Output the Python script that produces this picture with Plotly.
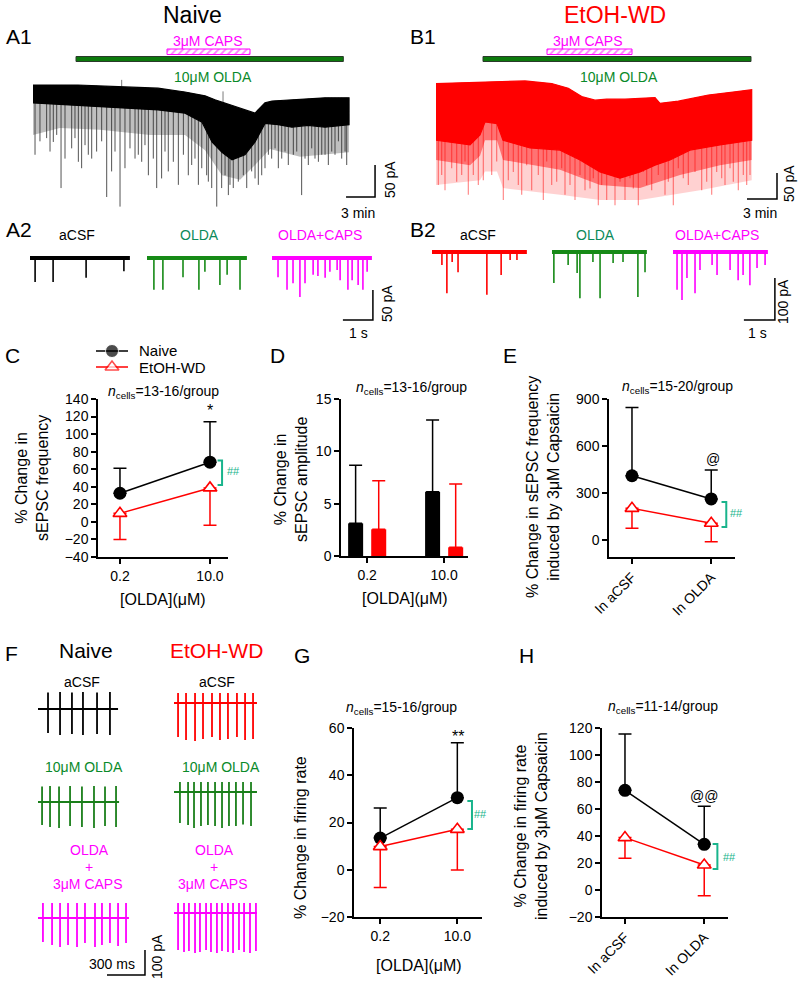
import numpy as np
import plotly.graph_objects as go

W, H = 800, 989
FONT = "Liberation Sans, Arial, Helvetica, sans-serif"
RED = "#ff0000"
MAG = "#ff00ff"
TRACE_GRN = "#168a16"
LBL_GRN = "#0a8a2a"
TEAL_LBL = "#0b8a5a"
SIG = "#19b48c"

# ============================ DATA ============================
# ---- A1 (Naive) long recording: time (min), current (pA, 0 = start level)
a1_top_t = [0.0, 4.65, 9.51, 12.93, 15.72, 17.79, 18.82, 20.17, 22.96, 23.27, 23.99, 24.72, 26.78, 30.2, 32.68]
a1_top_i = [0, 0, -3, -5, -11, -17, -23, -30, -44, -39, -28, -25, -23, -20, -20]
a1_dense_t = [0.0, 2.59, 6.1, 9.51, 12.93, 15.72, 17.48, 18.51, 19.54, 20.58, 21.92, 22.96, 23.99, 25.34, 26.78, 28.44, 30.2, 32.68]
a1_dense_i = [-28, -31, -34, -36, -39, -44, -58, -89, -105, -117, -109, -89, -60, -62, -66, -63, -66, -62]
a1_fringe_t = [0.0, 2.79, 6.93, 12.1, 15.72, 17.79, 19.54, 21.41, 22.96, 24.51, 27.61, 32.68]
a1_fringe_i = [-78, -67, -70, -78, -78, -102, -141, -148, -125, -100, -112, -105]
a1_evt_t = [0.21, 1.41, 2.1, 2.9, 3.31, 4.69, 5.03, 5.72, 6.58, 7.62, 8.13, 9.0, 9.51, 10.55, 11.24,
            11.93, 12.79, 13.3, 13.99, 15.03, 16.06, 16.41, 17.1, 17.96, 18.48, 19.0, 19.51, 20.2, 20.71, 21.23,
            21.75, 22.61, 23.3, 23.99, 24.68, 25.37, 26.4, 26.92, 27.78, 28.47, 29.16, 29.86, 30.54, 31.23, 31.92, 32.44,
            0.72, 1.76, 2.45, 4.0, 4.34, 5.38, 6.07, 7.1, 8.48, 10.03, 10.89, 11.58, 12.44, 13.65, 14.51, 15.55,
            16.75, 17.45, 18.13, 19.86, 20.37, 22.1, 22.96, 23.65, 24.34, 25.03, 25.72, 26.06, 27.27, 28.13,
            28.82, 29.51, 30.2, 30.89, 31.58, 32.27]
a1_evt_i = [-109, -83, -89, -161, -115, -120, -130, -109, -104, -175, -135, -190, -130, -115, -120,
            -141, -161, -146, -135, -156, -141, -125, -156, -141, -161, -190, -161, -172, -161, -151,
            -141, -135, -156, -130, -115, -130, -125, -109, -172, -125, -115, -109, -125, -109, -115, -125,
            -88, -104, -78, -99, -83, -94, -115, -88, -104, -99, -109, -94, -115, -104, -120, -109,
            -115, -130, -151, -141, -156, -161, -146, -141, -109, -99, -115, -104, -104, -115,
            -99, -120, -109, -104, -88, -104]
a1_up_t = [9.17, 19.65]
a1_up_i = [8, -10]
a1_olda = [4.45, 32.09]
a1_caps = [13.86, 22.44]

# ---- B1 (EtOH-WD) long recording
b1_top_t = [0.0, 3.9, 8.9, 11.57, 13.23, 14.57, 15.9, 17.07, 18.9, 21.9, 22.4, 24.23, 27.23, 29.9, 31.57]
b1_top_i = [-1, 1, 4, -1, -10, -26, -33, -31, -31, -28, -39, -35, -23, -17, -13]
b1_dense_t = [0.0, 3.4, 4.4, 4.9, 6.1, 6.7, 9.4, 12.4, 14.4, 16.4, 18.4, 20.4, 21.9, 23.4, 25.4, 28.4, 31.57]
b1_dense_i = [-110, -119, -100, -75, -78, -110, -125, -129, -148, -171, -183, -171, -158, -148, -129, -119, -110]
b1_mid_t = [0.0, 3.4, 4.4, 4.9, 6.1, 6.7, 12.4, 16.4, 20.4, 24.4, 28.4, 31.57]
b1_mid_i = [-148, -158, -140, -110, -110, -148, -167, -196, -202, -177, -158, -148]
b1_light_t = [0.0, 4.4, 4.9, 6.1, 6.7, 12.4, 16.4, 20.4, 26.4, 31.57]
b1_light_i = [-196, -187, -170, -170, -202, -215, -225, -225, -206, -187]
b1_evt_t = [0.23, 0.9, 2.57, 3.23, 4.73, 6.73, 7.23, 8.57, 9.57, 10.73, 11.57, 12.9, 13.9, 14.9,
            16.23, 17.07, 17.9, 18.9, 20.23, 21.57, 22.9, 23.73, 25.23, 26.57, 27.57, 28.9, 30.23, 31.4,
            0.57, 1.57, 2.07, 2.9, 3.73, 4.23, 5.57, 6.07, 7.73, 8.23, 9.07, 10.23, 11.07, 12.07, 12.57,
            13.4, 14.4, 15.4, 15.73, 16.57, 17.4, 18.4, 19.4, 19.73, 20.73, 21.07, 22.23, 23.23, 24.23,
            24.73, 25.9, 27.07, 28.07, 28.57, 29.4, 29.73, 30.73, 31.07]
b1_evt_i = [-196, -206, -177, -215, -187, -225, -187, -215, -206, -225, -196, -215, -225, -206,
            -235, -225, -235, -225, -235, -206, -215, -235, -196, -206, -215, -196, -206, -177,
            -177, -164, -190, -151, -177, -196, -177, -151, -171, -196, -158, -177, -151, -190, -164,
            -196, -177, -203, -183, -196, -177, -190, -183, -203, -171, -196, -177, -190, -164,
            -183, -171, -190, -171, -183, -164, -190, -177, -196]
b1_olda = [4.7, 31.5]
b1_caps = [11.1, 19.6]

# ---- A2 / B2 example sweeps: event times (s from sweep start) and amplitudes (pA)
seg_names = ["aCSF", "OLDA", "OLDA+CAPS"]
a2_dur = [3.33, 3.33, 3.33]
a2_evt_t = [[0.17, 0.77, 1.87, 3.13],
            [0.23, 0.53, 1.2, 1.73, 1.93, 2.43, 2.67, 3.1],
            [0.2, 0.5, 0.7, 0.93, 1.1, 1.37, 1.53, 1.77, 1.93, 2.17, 2.27, 2.53, 2.67, 2.87, 3.03, 3.17]]
a2_evt_a = [[40, 40, 33, 22],
            [53, 53, 32, 53, 23, 45, 28, 53],
            [32, 53, 42, 65, 42, 28, 30, 33, 23, 20, 37, 53, 37, 45, 53, 23]]
b2_dur = [3.06, 3.06, 3.06]
b2_evt_t = [[0.32, 0.48, 0.65, 0.84, 1.77, 2.23, 2.52, 2.74],
            [0.06, 0.52, 0.81, 0.9, 1.32, 1.55, 1.97, 2.29, 2.77, 3.0],
            [0.13, 0.29, 0.45, 0.71, 0.87, 1.26, 1.42, 1.84, 2.1, 2.26, 2.48, 2.71, 2.97]]
b2_evt_a = [[31, 98, 24, 48, 102, 55, 19, 19],
            [74, 31, 50, 110, 24, 110, 26, 24, 107, 48],
            [90, 114, 62, 98, 43, 31, 55, 43, 67, 55, 79, 38, 31]]

# ---- F: action-current sweeps: spike times (ms), upward / downward amplitudes (pA)
f_naive_dur = [632, 640, 718]
f_naive_t = [[79, 174, 268, 355, 466, 568],
             [32, 95, 166, 253, 347, 442, 529, 616],
             [39, 111, 174, 237, 308, 371, 450, 505, 568, 632, 695]]
f_naive_up = [[66, 68, 66, 68, 66, 68],
              [62, 64, 62, 64, 62, 64, 62, 64],
              [60, 60, 60, 60, 60, 60, 60, 60, 60, 60, 60]]
f_naive_dn = [[96, 104, 100, 104, 100, 104],
              [92, 100, 104, 96, 100, 104, 96, 100],
              [96, 108, 116, 108, 116, 100, 116, 108, 100, 112, 100]]
f_etoh_dur = [655, 655, 655]
f_etoh_t = [[32, 95, 166, 229, 300, 363, 426, 497, 561, 624],
            [47, 111, 158, 213, 268, 324, 379, 434, 489, 545, 608],
            [32, 79, 118, 166, 205, 253, 292, 339, 379, 426, 466, 513, 553, 600, 647]]
f_etoh_up = [[40] * 10, [40] * 11, [40] * 15]
f_etoh_dn = [[136, 148, 152, 144, 136, 148, 144, 136, 148, 144],
             [124, 132, 144, 136, 132, 136, 144, 136, 136, 130, 136],
             [148, 156, 152, 160, 156, 148, 156, 160, 152, 156, 160, 148, 156, 160, 152]]

# ---- C: % change in sEPSC frequency
conc_labels = ["0.2", "10.0"]
c_naive = [32.6, 68.0]
c_naive_sem = [28.4, 46.0]
c_etoh = [9.7, 38.7]
c_etoh_sem = [29.7, 42.4]
# ---- D: % change in sEPSC amplitude
d_naive = [3.12, 6.14]
d_naive_sem = [5.54, 6.86]
d_etoh = [2.55, 0.83]
d_etoh_sem = [4.65, 6.05]
# ---- E: % change in sEPSC frequency induced by capsaicin
cond_labels = ["In aCSF", "In OLDA"]
e_naive = [410, 262]
e_naive_sem = [435, 185]
e_etoh = [202, 107]
e_etoh_sem = [127, 118]
# ---- G: % change in firing rate
g_naive = [13.4, 30.5]
g_naive_sem = [12.7, 23.3]
g_etoh = [9.8, 17.1]
g_etoh_sem = [17.3, 17.2]
# ---- H: % change in firing rate induced by capsaicin
h_naive = [73.8, 33.8]
h_naive_sem = [41.8, 28.2]
h_etoh = [38.8, 18.5]
h_etoh_sem = [15.3, 22.7]

group_names = ["Naive", "EtOH-WD"]

# group-difference brackets (x position in category units, y span in data units)
brk_c = (1.134, 70, 42)
brk_e = (1.19, 242, 83)
brk_g = (1.19, 29.1, 17.3)
brk_h = (1.166, 34.1, 15.6)

# ============================ LAYOUT HELPERS ============================
def fx(px):
    return px / W

def fy(py):
    return 1 - py / H

def dx(a, b):
    return [fx(a), fx(b)]

def dy(top, bottom):
    return [fy(bottom), fy(top)]

def sid(n):
    return "" if n == 1 else str(n)

fig = go.Figure()
lay = {}
annots = []
shapes = []

def hidden_axes(n, xd, yd, xr, yr):
    lay["xaxis" + sid(n)] = dict(domain=xd, range=xr, visible=False, anchor="y" + sid(n),
                                 fixedrange=True, automargin=False)
    lay["yaxis" + sid(n)] = dict(domain=yd, range=yr, visible=False, anchor="x" + sid(n),
                                 fixedrange=True, automargin=False)

def shown_axes(n, xd, yd, xr, yr, cats, yticks, tickangle=0):
    common = dict(showline=True, linecolor="black", linewidth=1.5, ticks="outside", ticklen=5,
                  tickwidth=1.5, tickcolor="black", showgrid=False, zeroline=False,
                  tickfont=dict(size=14, color="black", family=FONT), fixedrange=True, automargin=False)
    lay["xaxis" + sid(n)] = dict(domain=xd, range=xr, type="category", categoryorder="array",
                                 categoryarray=cats, tickangle=tickangle, anchor="y" + sid(n), **common)
    lay["yaxis" + sid(n)] = dict(domain=yd, range=yr, tickvals=yticks, anchor="x" + sid(n), **common)

def add(tr, n):
    tr.update(xaxis="x" + sid(n), yaxis="y" + sid(n), showlegend=False)
    fig.add_trace(tr)

def txt(px, py, s, size=14, color="black", angle=0, xanchor="center", yanchor="middle"):
    annots.append(dict(x=fx(px), y=fy(py), xref="paper", yref="paper", text=s, showarrow=False,
                       font=dict(size=size, color=color, family=FONT), textangle=angle,
                       xanchor=xanchor, yanchor=yanchor))

def line(n, xs, ys, color, width):
    add(go.Scatter(x=xs, y=ys, mode="lines", line=dict(color=color, width=width), hoverinfo="skip"), n)

def band(n, t1, i1, t2, i2, color, lw=0.6):
    xs = list(t1) + list(t2)[::-1]
    ys = list(i1) + list(i2)[::-1]
    add(go.Scatter(x=xs, y=ys, mode="lines", fill="toself", fillcolor=color,
                   line=dict(color=color, width=lw), hoverinfo="skip"), n)

def spikes(n, ts, peaks, base_t, base_i, color, width):
    xs, ys = [], []
    for t, p in zip(ts, peaks):
        b = float(np.interp(t, base_t, base_i))
        xs += [t, t, None]
        ys += [b, p, None]
    line(n, xs, ys, color, width)

# ============================ A1 / B1 ============================
hidden_axes(1, dx(25, 400), dy(75, 215), [-0.827, 37.95], [-203.1, 15.6])
hidden_axes(2, dx(25, 400), dy(45, 65), [-0.827, 37.95], [0, 1])
hidden_axes(3, dx(425, 800), dy(75, 215), [-1.1, 36.4], [-253.8, 15.4])
hidden_axes(4, dx(425, 800), dy(45, 65), [-1.1, 36.4], [0, 1])

band(1, a1_top_t, a1_top_i, a1_fringe_t, a1_fringe_i, "rgba(0,0,0,0.25)", 0)
spikes(1, a1_evt_t, a1_evt_i, a1_top_t, a1_top_i, "rgba(40,40,40,0.8)", 1.0)
spikes(1, a1_up_t, a1_up_i, a1_top_t, a1_top_i, "rgba(90,90,90,0.8)", 1)
band(1, a1_top_t, a1_top_i, a1_dense_t, a1_dense_i, "#000000", 1.2)

band(3, b1_top_t, b1_top_i, b1_light_t, b1_light_i, "rgba(255,0,0,0.18)", 0)
band(3, b1_top_t, b1_top_i, b1_mid_t, b1_mid_i, "rgba(255,0,0,0.45)", 0)
spikes(3, b1_evt_t, b1_evt_i, b1_top_t, b1_top_i, "rgba(255,0,0,0.5)", 1.1)
band(3, b1_top_t, b1_top_i, b1_dense_t, b1_dense_i, RED, 1.2)

# scale bars (3 min / 50 pA)
line(1, [32.37, 35.37, 35.37], [-175, -175, -125], "black", 1.5)
line(3, [31.1, 34.1, 34.1], [-223, -223, -173], "black", 1.5)

# drug application bars
for n, olda, caps in [(2, a1_olda, a1_caps), (4, b1_olda, b1_caps)]:
    shapes.append(dict(type="rect", xref="x" + sid(n), yref="y" + sid(n), x0=olda[0], x1=olda[1],
                       y0=0.175, y1=0.425, fillcolor="#0c7a0c", line=dict(color="#2a3a2a", width=1)))
    add(go.Scatter(x=[caps[0], caps[1], caps[1], caps[0], caps[0]], y=[0.525, 0.525, 0.8, 0.8, 0.525],
                   mode="lines", fill="toself", fillcolor="white",
                   fillpattern=dict(shape="/", fgcolor=MAG, bgcolor="white", size=5, solidity=0.35),
                   line=dict(color=MAG, width=1), hoverinfo="skip"), n)

txt(192, 15, "Naive", 23)
txt(615, 15, "EtOH-WD", 23, RED)
txt(4, 36, "A1", 21, xanchor="left")
txt(408, 36, "B1", 21, xanchor="left")
txt(208, 41, "3μM CAPS", 14, MAG)
txt(588, 41, "3μM CAPS", 14, MAG)
txt(213, 77, "10μM OLDA", 14, LBL_GRN)
txt(619, 77, "10μM OLDA", 14, LBL_GRN)
txt(390, 180, "50 pA", 14, angle=-90)
txt(358, 213, "3 min", 14)
txt(789, 184, "50 pA", 14, angle=-90)
txt(760, 213, "3 min", 14)

# ============================ A2 / B2 ============================
hidden_axes(5, dx(25, 400), dy(240, 330), [-0.1667, 12.333], [-120, 30])
hidden_axes(6, dx(425, 800), dy(240, 330), [-0.2258, 11.87], [-185.7, 28.57])
a2_start = [0.0, 3.9, 8.067]
b2_start = [0.0, 3.871, 7.774]
a2_cols = ["black", TRACE_GRN, MAG]
b2_cols = [RED, TRACE_GRN, MAG]
for n, starts, durs, evt_t, evt_a, cols in [(5, a2_start, a2_dur, a2_evt_t, a2_evt_a, a2_cols),
                                           (6, b2_start, b2_dur, b2_evt_t, b2_evt_a, b2_cols)]:
    for k in range(3):
        s = starts[k]
        xs, ys = [], []
        for t, a in zip(evt_t[k], evt_a[k]):
            xs += [s + t, s + t, None]
            ys += [0, -a, None]
        line(n, xs, ys, cols[k], 1.6)
        line(n, [s, s + durs[k]], [0, 0], cols[k], 4)
# scale bars
line(5, [10.43, 11.43, 11.43], [-103.3, -103.3, -53.3], "black", 1.5)
line(6, [10.06, 11.06, 11.06], [-161.9, -161.9, -61.9], "black", 1.5)

txt(4, 229, "A2", 21, xanchor="left")
txt(408, 229, "B2", 21, xanchor="left")
label_cols = ["black", TEAL_LBL, MAG]
for name, xa, xb, c in zip(seg_names, [77, 199, 320], [478, 595, 717], label_cols):
    txt(xa, 235, name, 14, c)
    txt(xb, 235, name, 14, c)
txt(358, 333, "1 s", 14)
txt(387, 304, "50 pA", 14, angle=-90)
txt(757, 333, "1 s", 14)
txt(783, 302, "100 pA", 14, angle=-90)

# ============================ F ============================
hidden_axes(10, dx(0, 330), dy(660, 989), [0, 2605.3], [0, 1316])
f_col_start = [300.0, 1373.7]
f_naive_base = [1120, 748, 284]
f_etoh_base = [1144, 788, 304]
f_cols_naive = ["black", "#1a7f1a", MAG]
f_cols_etoh = [RED, "#1a7f1a", MAG]
for s0, bases, durs, tl, ul, dl, cols in [
        (f_col_start[0], f_naive_base, f_naive_dur, f_naive_t, f_naive_up, f_naive_dn, f_cols_naive),
        (f_col_start[1], f_etoh_base, f_etoh_dur, f_etoh_t, f_etoh_up, f_etoh_dn, f_cols_etoh)]:
    for k in range(3):
        b = bases[k]
        line(10, [s0, s0 + durs[k]], [b, b], cols[k], 2.2)
        xs, ys = [], []
        for t, u, d in zip(tl[k], ul[k], dl[k]):
            xs += [s0 + t, s0 + t, None]
            ys += [b + u, b - d, None]
        line(10, xs, ys, cols[k], 1.8)
# scale bar 300 ms / 100 pA
line(10, [844.7, 1144.7, 1144.7], [56, 56, 156], "black", 1.5)

txt(11, 653, "F", 21)
txt(86, 650, "Naive", 21)
txt(216, 650, "EtOH-WD", 21, RED)
txt(82, 682, "aCSF", 14)
txt(217, 682, "aCSF", 14)
txt(84, 767, "10μM OLDA", 14, LBL_GRN)
txt(221, 767, "10μM OLDA", 14, LBL_GRN)
for xc in [89, 214]:
    txt(xc, 850, "OLDA", 14, MAG)
    txt(xc, 867, "+", 14, MAG)
txt(88, 884, "3μM CAPS", 14, MAG)
txt(213, 884, "3μM CAPS", 14, MAG)
txt(112, 964, "300 ms", 14)
txt(157, 957, "100 pA", 14, angle=-90)

# ============================ C, D, E, G, H ============================
shown_axes(7, dx(98, 228), dy(399, 557), [-0.244, 1.2], [-40, 140], conc_labels, list(range(-40, 141, 20)))
shown_axes(8, dx(341, 468), dy(399, 556), [-0.34, 1.31], [0, 15], conc_labels, [0, 5, 10, 15])
shown_axes(9, dx(609, 735), dy(399, 557), [-0.29, 1.30], [-108.5, 900], cond_labels, [0, 300, 600, 900], -45)
shown_axes(11, dx(354, 482), dy(728, 917), [-0.34, 1.32], [-20, 60], conc_labels, [-20, 0, 20, 40, 60])
shown_axes(12, dx(602, 728), dy(728, 917), [-0.29, 1.30], [-20, 120], cond_labels, list(range(-20, 121, 20)), -45)

def group_pair(n, cats, nv, ns, ev, es):
    add(go.Scatter(x=cats, y=nv, mode="lines+markers", name=group_names[0],
                   line=dict(color="black", width=1.5),
                   marker=dict(symbol="circle", size=13, color="black"),
                   error_y=dict(type="data", symmetric=False, array=ns, arrayminus=[0] * len(ns),
                                color="black", thickness=1.5, width=6.5)), n)
    add(go.Scatter(x=cats, y=ev, mode="lines+markers", name=group_names[1],
                   line=dict(color=RED, width=1.5),
                   marker=dict(symbol="triangle-up", size=12, color="white", line=dict(color=RED, width=1.6)),
                   error_y=dict(type="data", symmetric=False, array=[0] * len(es), arrayminus=es,
                                color=RED, thickness=1.5, width=6.5)), n)

group_pair(7, conc_labels, c_naive, c_naive_sem, c_etoh, c_etoh_sem)
group_pair(9, cond_labels, e_naive, e_naive_sem, e_etoh, e_etoh_sem)
group_pair(11, conc_labels, g_naive, g_naive_sem, g_etoh, g_etoh_sem)
group_pair(12, cond_labels, h_naive, h_naive_sem, h_etoh, h_etoh_sem)

add(go.Bar(x=conc_labels, y=d_naive, marker=dict(color="black", line=dict(width=0)),
           error_y=dict(type="data", symmetric=False, array=d_naive_sem, arrayminus=[0, 0],
                        color="black", thickness=1.5, width=6.5)), 8)
add(go.Bar(x=conc_labels, y=d_etoh, marker=dict(color=RED, line=dict(width=0)),
           error_y=dict(type="data", symmetric=False, array=d_etoh_sem, arrayminus=[0, 0],
                        color=RED, thickness=1.5, width=6.5)), 8)

# legend for panel C (drawn as a small key on its own hidden axes)
hidden_axes(13, dx(96, 128), dy(343, 375), [0, 1], [0, 1])
add(go.Scatter(x=[0, 0.5, 1], y=[0.75, 0.75, 0.75], mode="lines+markers",
               line=dict(color="black", width=1.5),
               marker=dict(symbol="circle", size=[0, 13, 0], color="black"), hoverinfo="skip"), 13)
add(go.Scatter(x=[0, 0.5, 1], y=[0.25, 0.25, 0.25], mode="lines+markers",
               line=dict(color=RED, width=1.5),
               marker=dict(symbol="triangle-up", size=[0, 12, 0], color="white",
                           line=dict(color=RED, width=1.6)), hoverinfo="skip"), 13)
txt(137, 351, group_names[0], 15, xanchor="left")
txt(137, 367, group_names[1], 15, xanchor="left")

# significance brackets
for n, (bx, y0, y1), dxu in [(7, brk_c, 0.05), (9, brk_e, 0.06), (11, brk_g, 0.06), (12, brk_h, 0.06)]:
    shapes.append(dict(type="path", xref="x" + sid(n), yref="y" + sid(n),
                       path=f"M {bx - dxu},{y0} L {bx},{y0} L {bx},{y1} L {bx - dxu},{y1}",
                       line=dict(color=SIG, width=2)))

# panel letters
txt(12, 355, "C", 21)
txt(277, 355, "D", 21)
txt(510, 355, "E", 21)
txt(302, 655, "G", 21)
txt(526, 655, "H", 21)

# n cells
txt(163, 392, "<i>n</i><sub>cells</sub>=13-16/group", 14)
txt(411, 388, "<i>n</i><sub>cells</sub>=13-16/group", 14)
txt(677, 387, "<i>n</i><sub>cells</sub>=15-20/group", 14)
txt(402, 708, "<i>n</i><sub>cells</sub>=15-16/group", 14)
txt(663, 707, "<i>n</i><sub>cells</sub>=11-14/group", 14)

# axis titles
txt(32, 478, "% Change in<br>sEPSC frequency", 16, angle=-90)
txt(291, 480, "% Change in<br>sEPSC amplitude", 16, angle=-90)
txt(543, 487, "% Change in sEPSC frequency<br>induced by 3μM Capsaicin", 16, angle=-90)
txt(300, 838, "% Change in firing rate", 16, angle=-90)
txt(531, 826, "% Change in firing rate<br>induced by 3μM Capsaicin", 16, angle=-90)
txt(163, 599, "[OLDA](μM)", 16)
txt(405, 598, "[OLDA](μM)", 16)
txt(419, 965, "[OLDA](μM)", 16)

# significance marks
txt(210, 410, "*", 16)
txt(713, 459, "@", 14)
txt(458, 736, "**", 16)
txt(704, 796, "@@", 14)
txt(233, 471, "##", 11, SIG)
txt(736, 513, "##", 11, SIG)
txt(481, 814, "##", 11, SIG)
txt(729, 857, "##", 11, SIG)

fig.update_layout(
    width=W, height=H, autosize=False,
    margin=dict(l=0, r=0, t=0, b=0, pad=0, autoexpand=False),
    paper_bgcolor="white", plot_bgcolor="rgba(0,0,0,0)",
    font=dict(family=FONT, color="black"),
    barmode="group", bargap=0.4, bargroupgap=0.35,
    showlegend=False,
    annotations=annots, shapes=shapes,
    **lay,
)

# remove the browser's default 8px page margin so the 800x989 figure fills the window exactly
fig.write_html("out.html", config={"displayModeBar": False},
               post_script="document.body.style.margin='0';document.body.style.overflow='hidden';")
